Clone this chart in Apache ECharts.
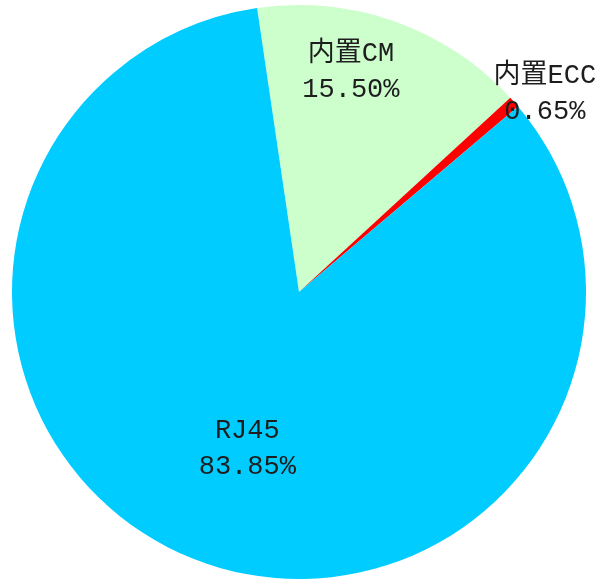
<!DOCTYPE html>
<html>
<head>
<meta charset="utf-8">
<script src="https://cdn.jsdelivr.net/npm/echarts@6/dist/echarts.min.js"></script>
<style>
  html, body { margin: 0; padding: 0; background: #ffffff; }
  #chart { width: 597px; height: 580px; }
</style>
</head>
<body>
<div id="chart"></div>
<script>
// Share of interface types (percent)
const categories = ['内置CM', '内置ECC', 'RJ45'];
const shares = [15.50, 0.65, 83.85];
const sliceColors = ['#ccffcc', '#ff0000', '#00ccff'];

// Nudges applied to each inside label (px)
const labelShift = [[3, -82], [136, -101], [0, 20]];

const chart = echarts.init(document.getElementById('chart'));

chart.setOption({
  backgroundColor: '#ffffff',
  animation: false,
  series: [{
    type: 'pie',
    center: [299, 292],
    radius: [0, 287],
    startAngle: 98.4,
    clockwise: true,
    avoidLabelOverlap: false,
    silent: true,
    itemStyle: { borderWidth: 0 },
    label: {
      show: true,
      position: 'inside',
      formatter: p => p.name + '\n' + p.value.toFixed(2) + '%',
      fontFamily: '"Liberation Mono", "Noto Sans CJK SC", monospace',
      fontSize: 27,
      lineHeight: 36,
      color: '#1e1e1e',
      align: 'center'
    },
    labelLine: { show: false },
    labelLayout: p => {
      const s = labelShift[p.dataIndex];
      return { dx: s[0], dy: s[1] };
    },
    data: categories.map((name, i) => ({
      name: name,
      value: shares[i],
      itemStyle: { color: sliceColors[i] }
    }))
  }]
});
</script>
</body>
</html>
